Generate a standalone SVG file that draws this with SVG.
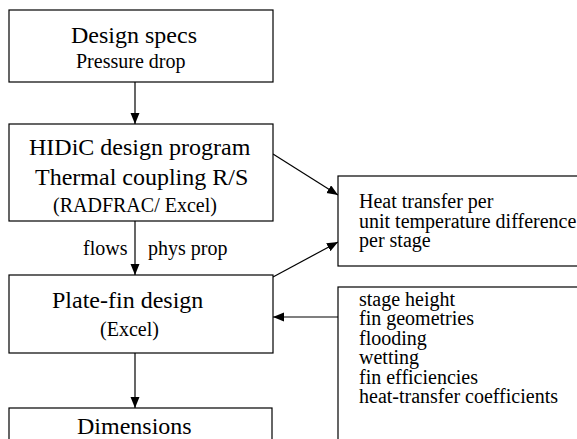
<svg xmlns="http://www.w3.org/2000/svg" width="577" height="439" viewBox="0 0 577 439">
<style>
  .box { fill: #fff; stroke: #000; stroke-width: 1.2; }
  .big { font-size: 24px; fill: #000; }
  .sm { font-size: 20px; fill: #000; }
  .conn { stroke: #000; stroke-width: 1.2; fill: none; marker-end: url(#ah); }
</style>
<defs>
  <marker id="ah" markerWidth="12" markerHeight="10" refX="11" refY="4.5" orient="auto" markerUnits="userSpaceOnUse">
    <path d="M0,0 L11,4.5 L0,9 z" fill="#000"/>
  </marker>
</defs>
<rect width="577" height="439" fill="#fff"/>
<g font-family="Liberation Serif, DejaVu Serif, serif">
<g id="connectors">
  <line class="conn" x1="135" y1="82" x2="135" y2="124"/>
  <line class="conn" x1="135" y1="221" x2="135" y2="275"/>
  <line class="conn" x1="135" y1="353" x2="135" y2="408"/>
  <line class="conn" x1="273" y1="154" x2="338" y2="195"/>
  <line class="conn" x1="273" y1="277" x2="338" y2="242"/>
  <line class="conn" x1="338" y1="317" x2="273" y2="317"/>
  <text class="sm" x="83" y="255">flows</text>
  <text class="sm" x="148" y="255">phys prop</text>
</g>
<g id="design-specs">
  <rect class="box" x="9" y="10" width="264" height="72"/>
  <text class="big" x="71" y="43">Design specs</text>
  <text class="sm" x="76" y="68">Pressure drop</text>
</g>
<g id="hidic">
  <rect class="box" x="9" y="124" width="264" height="97"/>
  <text class="big" x="29" y="155">HIDiC design program</text>
  <text class="big" x="35" y="185">Thermal coupling R/S</text>
  <text class="sm" x="53" y="212">(RADFRAC/ Excel)</text>
</g>
<g id="plate-fin">
  <rect class="box" x="9" y="275" width="264" height="78"/>
  <text class="big" x="52" y="308">Plate-fin design</text>
  <text class="sm" x="100" y="336">(Excel)</text>
</g>
<g id="dimensions">
  <rect class="box" x="9" y="408" width="263" height="40"/>
  <text class="big" x="77" y="434">Dimensions</text>
</g>
<g id="heat-transfer">
  <rect class="box" x="338" y="176" width="250" height="90"/>
  <text class="sm" x="359" y="208">Heat transfer per</text>
  <text class="sm" x="359" y="228">unit temperature difference</text>
  <text class="sm" x="359" y="247">per stage</text>
</g>
<g id="parameters">
  <rect class="box" x="338" y="287" width="250" height="170"/>
  <text class="sm" x="359" y="306">stage height</text>
  <text class="sm" x="359" y="325.4">fin geometries</text>
  <text class="sm" x="359" y="344.8">flooding</text>
  <text class="sm" x="359" y="364.2">wetting</text>
  <text class="sm" x="359" y="383.6">fin efficiencies</text>
  <text class="sm" x="359" y="403">heat-transfer coefficients</text>
</g>
</g>
</svg>
